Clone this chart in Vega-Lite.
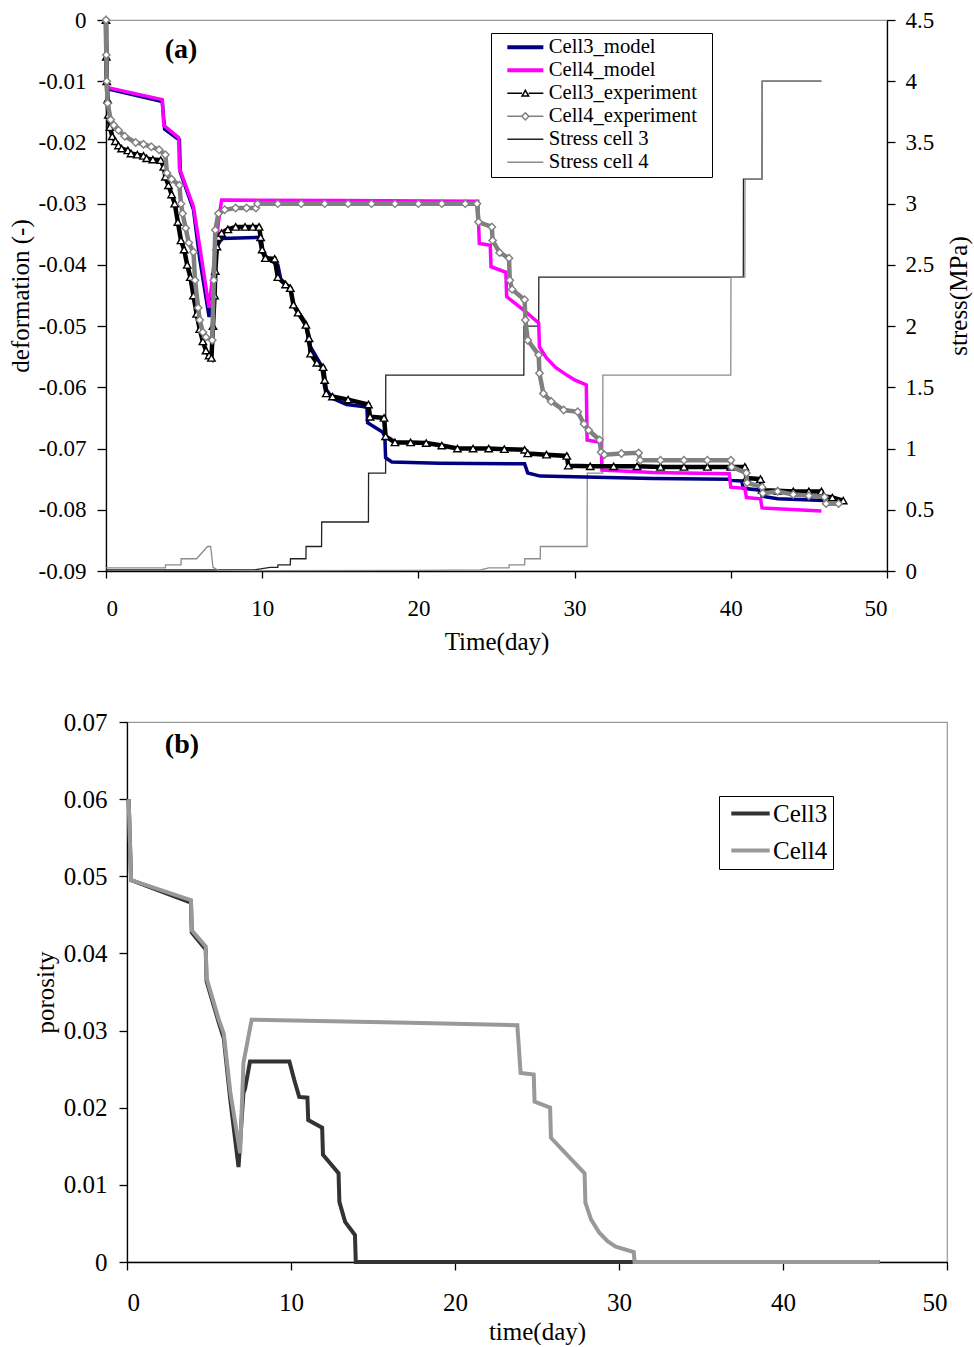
{
  "$schema": "https://vega.github.io/schema/vega-lite/v6.json",
  "background": "white",
  "padding": {"top": 8, "left": 7, "right": 0, "bottom": 0},
  "config": {
    "font": "Liberation Serif",
    "view": {"stroke": "#999999", "strokeWidth": 1.2},
    "axis": {"grid": false, "domainColor": "black", "tickColor": "black", "labelColor": "black", "titleColor": "black", "labelFont": "Liberation Serif", "titleFont": "Liberation Serif", "titleFontWeight": "normal", "domainWidth": 1.3, "tickWidth": 1.3}
  },
  "datasets": {
    "defo": [
      {"s":"Cell3_model","t":0,"v":0},{"s":"Cell3_model","t":0.05,"v":-0.0112},{"s":"Cell3_model","t":3.6,"v":-0.0133},{"s":"Cell3_model","t":3.75,"v":-0.0178},{"s":"Cell3_model","t":4.7,"v":-0.0196},{"s":"Cell3_model","t":4.75,"v":-0.0248},{"s":"Cell3_model","t":5.6,"v":-0.031},{"s":"Cell3_model","t":6.0,"v":-0.039},{"s":"Cell3_model","t":6.6,"v":-0.0485},{"s":"Cell3_model","t":6.9,"v":-0.042},{"s":"Cell3_model","t":7.1,"v":-0.037},{"s":"Cell3_model","t":7.4,"v":-0.0357},{"s":"Cell3_model","t":9.8,"v":-0.0355},{"s":"Cell3_model","t":10.0,"v":-0.038},{"s":"Cell3_model","t":10.5,"v":-0.0392},{"s":"Cell3_model","t":11.0,"v":-0.040},{"s":"Cell3_model","t":11.2,"v":-0.0425},{"s":"Cell3_model","t":11.8,"v":-0.0437},{"s":"Cell3_model","t":12.0,"v":-0.0465},{"s":"Cell3_model","t":12.8,"v":-0.0495},{"s":"Cell3_model","t":13.0,"v":-0.053},{"s":"Cell3_model","t":13.8,"v":-0.0565},{"s":"Cell3_model","t":14.0,"v":-0.060},{"s":"Cell3_model","t":14.5,"v":-0.0618},{"s":"Cell3_model","t":15.4,"v":-0.0628},{"s":"Cell3_model","t":16.7,"v":-0.0632},{"s":"Cell3_model","t":16.75,"v":-0.0658},{"s":"Cell3_model","t":17.7,"v":-0.0673},{"s":"Cell3_model","t":17.85,"v":-0.068},{"s":"Cell3_model","t":17.9,"v":-0.0715},{"s":"Cell3_model","t":18.3,"v":-0.0722},{"s":"Cell3_model","t":21.3,"v":-0.0724},{"s":"Cell3_model","t":26.8,"v":-0.0725},{"s":"Cell3_model","t":27.0,"v":-0.074},{"s":"Cell3_model","t":27.8,"v":-0.0745},{"s":"Cell3_model","t":35,"v":-0.0749},{"s":"Cell3_model","t":39.9,"v":-0.075},{"s":"Cell3_model","t":40.0,"v":-0.0752},{"s":"Cell3_model","t":40.7,"v":-0.0753},{"s":"Cell3_model","t":40.8,"v":-0.0765},{"s":"Cell3_model","t":41.9,"v":-0.0768},{"s":"Cell3_model","t":42.0,"v":-0.0778},{"s":"Cell3_model","t":43,"v":-0.0782},{"s":"Cell3_model","t":46.0,"v":-0.0785},
      {"s":"Cell4_model","t":0,"v":0},{"s":"Cell4_model","t":0.05,"v":-0.011},{"s":"Cell4_model","t":3.6,"v":-0.013},{"s":"Cell4_model","t":3.7,"v":-0.0172},{"s":"Cell4_model","t":4.65,"v":-0.0192},{"s":"Cell4_model","t":4.7,"v":-0.0242},{"s":"Cell4_model","t":5.6,"v":-0.0305},{"s":"Cell4_model","t":6.0,"v":-0.037},{"s":"Cell4_model","t":6.6,"v":-0.047},{"s":"Cell4_model","t":6.9,"v":-0.040},{"s":"Cell4_model","t":7.2,"v":-0.033},{"s":"Cell4_model","t":7.4,"v":-0.0294},{"s":"Cell4_model","t":15,"v":-0.0295},{"s":"Cell4_model","t":23.8,"v":-0.0296},{"s":"Cell4_model","t":23.9,"v":-0.0365},{"s":"Cell4_model","t":24.6,"v":-0.0368},{"s":"Cell4_model","t":24.65,"v":-0.0403},{"s":"Cell4_model","t":25.6,"v":-0.0412},{"s":"Cell4_model","t":25.65,"v":-0.0452},{"s":"Cell4_model","t":26.8,"v":-0.0475},{"s":"Cell4_model","t":27.7,"v":-0.0495},{"s":"Cell4_model","t":27.75,"v":-0.0534},{"s":"Cell4_model","t":28.2,"v":-0.0552},{"s":"Cell4_model","t":28.8,"v":-0.0568},{"s":"Cell4_model","t":29.5,"v":-0.058},{"s":"Cell4_model","t":30.0,"v":-0.0588},{"s":"Cell4_model","t":30.75,"v":-0.0596},{"s":"Cell4_model","t":30.8,"v":-0.0686},{"s":"Cell4_model","t":31.7,"v":-0.069},{"s":"Cell4_model","t":31.75,"v":-0.0735},{"s":"Cell4_model","t":35,"v":-0.0739},{"s":"Cell4_model","t":39.9,"v":-0.0741},{"s":"Cell4_model","t":40.0,"v":-0.0763},{"s":"Cell4_model","t":40.9,"v":-0.0765},{"s":"Cell4_model","t":41.0,"v":-0.078},{"s":"Cell4_model","t":41.9,"v":-0.0782},{"s":"Cell4_model","t":42.0,"v":-0.0797},{"s":"Cell4_model","t":45.8,"v":-0.0802},
      {"s":"Cell3_experiment","t":0,"v":0},{"s":"Cell3_experiment","t":0.02,"v":-0.006},{"s":"Cell3_experiment","t":0.05,"v":-0.010},{"s":"Cell3_experiment","t":0.1,"v":-0.013},{"s":"Cell3_experiment","t":0.15,"v":-0.0155},{"s":"Cell3_experiment","t":0.25,"v":-0.0175},{"s":"Cell3_experiment","t":0.4,"v":-0.019},{"s":"Cell3_experiment","t":0.6,"v":-0.0198},{"s":"Cell3_experiment","t":0.8,"v":-0.0205},{"s":"Cell3_experiment","t":1.0,"v":-0.021},{"s":"Cell3_experiment","t":1.4,"v":-0.0213},{"s":"Cell3_experiment","t":1.6,"v":-0.0218},{"s":"Cell3_experiment","t":2.0,"v":-0.022},{"s":"Cell3_experiment","t":2.4,"v":-0.0222},{"s":"Cell3_experiment","t":2.6,"v":-0.0226},{"s":"Cell3_experiment","t":3.0,"v":-0.0228},{"s":"Cell3_experiment","t":3.5,"v":-0.0229},{"s":"Cell3_experiment","t":3.7,"v":-0.024},{"s":"Cell3_experiment","t":3.8,"v":-0.0256},{"s":"Cell3_experiment","t":4.0,"v":-0.027},{"s":"Cell3_experiment","t":4.2,"v":-0.0285},{"s":"Cell3_experiment","t":4.4,"v":-0.030},{"s":"Cell3_experiment","t":4.6,"v":-0.033},{"s":"Cell3_experiment","t":4.8,"v":-0.036},{"s":"Cell3_experiment","t":5.0,"v":-0.0375},{"s":"Cell3_experiment","t":5.2,"v":-0.040},{"s":"Cell3_experiment","t":5.4,"v":-0.042},{"s":"Cell3_experiment","t":5.6,"v":-0.045},{"s":"Cell3_experiment","t":5.8,"v":-0.048},{"s":"Cell3_experiment","t":6.0,"v":-0.0505},{"s":"Cell3_experiment","t":6.2,"v":-0.0525},{"s":"Cell3_experiment","t":6.4,"v":-0.054},{"s":"Cell3_experiment","t":6.6,"v":-0.0548},{"s":"Cell3_experiment","t":6.75,"v":-0.0552},{"s":"Cell3_experiment","t":6.85,"v":-0.050},{"s":"Cell3_experiment","t":6.95,"v":-0.045},{"s":"Cell3_experiment","t":7.0,"v":-0.041},{"s":"Cell3_experiment","t":7.1,"v":-0.037},{"s":"Cell3_experiment","t":7.2,"v":-0.0355},{"s":"Cell3_experiment","t":7.4,"v":-0.0348},{"s":"Cell3_experiment","t":7.8,"v":-0.0342},{"s":"Cell3_experiment","t":8.3,"v":-0.0338},{"s":"Cell3_experiment","t":8.9,"v":-0.0338},{"s":"Cell3_experiment","t":9.4,"v":-0.0338},{"s":"Cell3_experiment","t":9.8,"v":-0.0338},{"s":"Cell3_experiment","t":9.9,"v":-0.0355},{"s":"Cell3_experiment","t":10.0,"v":-0.0375},{"s":"Cell3_experiment","t":10.2,"v":-0.0389},{"s":"Cell3_experiment","t":10.8,"v":-0.039},{"s":"Cell3_experiment","t":11.0,"v":-0.042},{"s":"Cell3_experiment","t":11.5,"v":-0.0432},{"s":"Cell3_experiment","t":11.8,"v":-0.0438},{"s":"Cell3_experiment","t":12.0,"v":-0.0465},{"s":"Cell3_experiment","t":12.3,"v":-0.0478},{"s":"Cell3_experiment","t":12.8,"v":-0.0498},{"s":"Cell3_experiment","t":13.0,"v":-0.052},{"s":"Cell3_experiment","t":13.1,"v":-0.0545},{"s":"Cell3_experiment","t":13.5,"v":-0.056},{"s":"Cell3_experiment","t":13.9,"v":-0.0567},{"s":"Cell3_experiment","t":14.0,"v":-0.0588},{"s":"Cell3_experiment","t":14.1,"v":-0.061},{"s":"Cell3_experiment","t":14.5,"v":-0.0615},{"s":"Cell3_experiment","t":15.5,"v":-0.062},{"s":"Cell3_experiment","t":16.8,"v":-0.0628},{"s":"Cell3_experiment","t":16.9,"v":-0.0648},{"s":"Cell3_experiment","t":17.8,"v":-0.065},{"s":"Cell3_experiment","t":17.9,"v":-0.068},{"s":"Cell3_experiment","t":18.5,"v":-0.069},{"s":"Cell3_experiment","t":19.5,"v":-0.069},{"s":"Cell3_experiment","t":20.5,"v":-0.0691},{"s":"Cell3_experiment","t":21.5,"v":-0.0695},{"s":"Cell3_experiment","t":22.5,"v":-0.070},{"s":"Cell3_experiment","t":23.5,"v":-0.070},{"s":"Cell3_experiment","t":24.5,"v":-0.070},{"s":"Cell3_experiment","t":25.5,"v":-0.0701},{"s":"Cell3_experiment","t":26.8,"v":-0.0702},{"s":"Cell3_experiment","t":27.0,"v":-0.0708},{"s":"Cell3_experiment","t":28.2,"v":-0.071},{"s":"Cell3_experiment","t":29.5,"v":-0.0712},{"s":"Cell3_experiment","t":29.6,"v":-0.0728},{"s":"Cell3_experiment","t":31,"v":-0.0729},{"s":"Cell3_experiment","t":32.5,"v":-0.0729},{"s":"Cell3_experiment","t":34,"v":-0.0729},{"s":"Cell3_experiment","t":35.5,"v":-0.073},{"s":"Cell3_experiment","t":37,"v":-0.073},{"s":"Cell3_experiment","t":38.5,"v":-0.073},{"s":"Cell3_experiment","t":40,"v":-0.073},{"s":"Cell3_experiment","t":40.9,"v":-0.073},{"s":"Cell3_experiment","t":41.0,"v":-0.0748},{"s":"Cell3_experiment","t":41.9,"v":-0.075},{"s":"Cell3_experiment","t":42.0,"v":-0.0768},{"s":"Cell3_experiment","t":43,"v":-0.0769},{"s":"Cell3_experiment","t":44,"v":-0.077},{"s":"Cell3_experiment","t":45,"v":-0.077},{"s":"Cell3_experiment","t":45.8,"v":-0.077},{"s":"Cell3_experiment","t":45.9,"v":-0.0778},{"s":"Cell3_experiment","t":46.5,"v":-0.078},{"s":"Cell3_experiment","t":47.2,"v":-0.0785},
      {"s":"Cell4_experiment","t":0,"v":0},{"s":"Cell4_experiment","t":0.02,"v":-0.0057},{"s":"Cell4_experiment","t":0.05,"v":-0.010},{"s":"Cell4_experiment","t":0.1,"v":-0.0136},{"s":"Cell4_experiment","t":0.3,"v":-0.0163},{"s":"Cell4_experiment","t":0.5,"v":-0.0172},{"s":"Cell4_experiment","t":0.8,"v":-0.018},{"s":"Cell4_experiment","t":1.2,"v":-0.019},{"s":"Cell4_experiment","t":1.9,"v":-0.020},{"s":"Cell4_experiment","t":2.4,"v":-0.0203},{"s":"Cell4_experiment","t":2.9,"v":-0.0207},{"s":"Cell4_experiment","t":3.4,"v":-0.0212},{"s":"Cell4_experiment","t":3.8,"v":-0.022},{"s":"Cell4_experiment","t":3.9,"v":-0.025},{"s":"Cell4_experiment","t":4.2,"v":-0.026},{"s":"Cell4_experiment","t":4.7,"v":-0.027},{"s":"Cell4_experiment","t":4.8,"v":-0.030},{"s":"Cell4_experiment","t":4.9,"v":-0.0316},{"s":"Cell4_experiment","t":5.1,"v":-0.034},{"s":"Cell4_experiment","t":5.3,"v":-0.0364},{"s":"Cell4_experiment","t":5.6,"v":-0.0379},{"s":"Cell4_experiment","t":5.7,"v":-0.0425},{"s":"Cell4_experiment","t":5.9,"v":-0.047},{"s":"Cell4_experiment","t":6.0,"v":-0.049},{"s":"Cell4_experiment","t":6.2,"v":-0.051},{"s":"Cell4_experiment","t":6.4,"v":-0.0518},{"s":"Cell4_experiment","t":6.8,"v":-0.0523},{"s":"Cell4_experiment","t":6.9,"v":-0.0425},{"s":"Cell4_experiment","t":7.0,"v":-0.0343},{"s":"Cell4_experiment","t":7.2,"v":-0.0316},{"s":"Cell4_experiment","t":7.6,"v":-0.031},{"s":"Cell4_experiment","t":8.3,"v":-0.0307},{"s":"Cell4_experiment","t":9.0,"v":-0.0307},{"s":"Cell4_experiment","t":9.6,"v":-0.0307},{"s":"Cell4_experiment","t":9.7,"v":-0.030},{"s":"Cell4_experiment","t":11,"v":-0.030},{"s":"Cell4_experiment","t":12.5,"v":-0.030},{"s":"Cell4_experiment","t":14,"v":-0.030},{"s":"Cell4_experiment","t":15.5,"v":-0.030},{"s":"Cell4_experiment","t":17,"v":-0.030},{"s":"Cell4_experiment","t":18.5,"v":-0.030},{"s":"Cell4_experiment","t":20,"v":-0.030},{"s":"Cell4_experiment","t":21.5,"v":-0.030},{"s":"Cell4_experiment","t":23,"v":-0.030},{"s":"Cell4_experiment","t":23.75,"v":-0.030},{"s":"Cell4_experiment","t":23.85,"v":-0.033},{"s":"Cell4_experiment","t":24.7,"v":-0.0338},{"s":"Cell4_experiment","t":24.75,"v":-0.036},{"s":"Cell4_experiment","t":25.2,"v":-0.038},{"s":"Cell4_experiment","t":25.8,"v":-0.0389},{"s":"Cell4_experiment","t":25.85,"v":-0.0425},{"s":"Cell4_experiment","t":26.0,"v":-0.044},{"s":"Cell4_experiment","t":26.8,"v":-0.0457},{"s":"Cell4_experiment","t":26.85,"v":-0.049},{"s":"Cell4_experiment","t":27.0,"v":-0.0523},{"s":"Cell4_experiment","t":27.7,"v":-0.0547},{"s":"Cell4_experiment","t":27.75,"v":-0.0577},{"s":"Cell4_experiment","t":28.0,"v":-0.061},{"s":"Cell4_experiment","t":28.5,"v":-0.0623},{"s":"Cell4_experiment","t":29.3,"v":-0.0637},{"s":"Cell4_experiment","t":30.2,"v":-0.064},{"s":"Cell4_experiment","t":30.6,"v":-0.066},{"s":"Cell4_experiment","t":30.9,"v":-0.067},{"s":"Cell4_experiment","t":31.6,"v":-0.0686},{"s":"Cell4_experiment","t":31.7,"v":-0.0706},{"s":"Cell4_experiment","t":31.9,"v":-0.071},{"s":"Cell4_experiment","t":33,"v":-0.0708},{"s":"Cell4_experiment","t":34.1,"v":-0.0707},{"s":"Cell4_experiment","t":34.2,"v":-0.0719},{"s":"Cell4_experiment","t":35.5,"v":-0.0719},{"s":"Cell4_experiment","t":37,"v":-0.0719},{"s":"Cell4_experiment","t":38.5,"v":-0.0719},{"s":"Cell4_experiment","t":40.0,"v":-0.0719},{"s":"Cell4_experiment","t":40.05,"v":-0.073},{"s":"Cell4_experiment","t":41.0,"v":-0.074},{"s":"Cell4_experiment","t":41.05,"v":-0.0756},{"s":"Cell4_experiment","t":42.0,"v":-0.0763},{"s":"Cell4_experiment","t":42.05,"v":-0.0773},{"s":"Cell4_experiment","t":43.0,"v":-0.077},{"s":"Cell4_experiment","t":44,"v":-0.0775},{"s":"Cell4_experiment","t":45,"v":-0.0777},{"s":"Cell4_experiment","t":46.0,"v":-0.0779},{"s":"Cell4_experiment","t":46.1,"v":-0.079},{"s":"Cell4_experiment","t":46.9,"v":-0.079}
    ],
    "stress": [
      {"s":"Stress cell 3","t":0,"v":0.01},{"s":"Stress cell 3","t":9.5,"v":0.01},{"s":"Stress cell 3","t":10.5,"v":0.03},{"s":"Stress cell 3","t":11.0,"v":0.03},{"s":"Stress cell 3","t":11.01,"v":0.05},{"s":"Stress cell 3","t":11.8,"v":0.05},{"s":"Stress cell 3","t":11.81,"v":0.1},{"s":"Stress cell 3","t":12.8,"v":0.1},{"s":"Stress cell 3","t":12.81,"v":0.2},{"s":"Stress cell 3","t":13.8,"v":0.2},{"s":"Stress cell 3","t":13.81,"v":0.4},{"s":"Stress cell 3","t":16.8,"v":0.4},{"s":"Stress cell 3","t":16.81,"v":0.8},{"s":"Stress cell 3","t":17.9,"v":0.8},{"s":"Stress cell 3","t":17.91,"v":1.6},{"s":"Stress cell 3","t":26.75,"v":1.6},{"s":"Stress cell 3","t":26.76,"v":2.0},{"s":"Stress cell 3","t":27.7,"v":2.0},{"s":"Stress cell 3","t":27.71,"v":2.4},{"s":"Stress cell 3","t":40.8,"v":2.4},{"s":"Stress cell 3","t":40.81,"v":3.2},{"s":"Stress cell 3","t":42.0,"v":3.2},{"s":"Stress cell 3","t":42.01,"v":4.0},{"s":"Stress cell 3","t":45.8,"v":4.0},
      {"s":"Stress cell 4","t":0,"v":0.025},{"s":"Stress cell 4","t":3.8,"v":0.025},{"s":"Stress cell 4","t":3.81,"v":0.05},{"s":"Stress cell 4","t":4.8,"v":0.05},{"s":"Stress cell 4","t":4.81,"v":0.1},{"s":"Stress cell 4","t":5.8,"v":0.1},{"s":"Stress cell 4","t":6.5,"v":0.2},{"s":"Stress cell 4","t":6.7,"v":0.2},{"s":"Stress cell 4","t":6.85,"v":0.03},{"s":"Stress cell 4","t":7.2,"v":0.005},{"s":"Stress cell 4","t":10,"v":0.003},{"s":"Stress cell 4","t":20,"v":0.005},{"s":"Stress cell 4","t":24.0,"v":0.01},{"s":"Stress cell 4","t":24.5,"v":0.025},{"s":"Stress cell 4","t":25.8,"v":0.025},{"s":"Stress cell 4","t":25.81,"v":0.05},{"s":"Stress cell 4","t":26.8,"v":0.05},{"s":"Stress cell 4","t":26.81,"v":0.1},{"s":"Stress cell 4","t":27.8,"v":0.1},{"s":"Stress cell 4","t":27.81,"v":0.2},{"s":"Stress cell 4","t":30.8,"v":0.2},{"s":"Stress cell 4","t":30.81,"v":0.8},{"s":"Stress cell 4","t":31.8,"v":0.8},{"s":"Stress cell 4","t":31.81,"v":1.6},{"s":"Stress cell 4","t":40.0,"v":1.6},{"s":"Stress cell 4","t":40.01,"v":2.4},{"s":"Stress cell 4","t":40.9,"v":2.4},{"s":"Stress cell 4","t":40.91,"v":3.2},{"s":"Stress cell 4","t":42.0,"v":3.2},{"s":"Stress cell 4","t":42.01,"v":4.0},{"s":"Stress cell 4","t":45.8,"v":4.0}
    ],
    "poro": [
      {"s":"Cell3","t":0.1,"v":0.06},{"s":"Cell3","t":0.25,"v":0.0495},{"s":"Cell3","t":3.9,"v":0.0466},{"s":"Cell3","t":3.95,"v":0.0427},{"s":"Cell3","t":4.8,"v":0.0405},{"s":"Cell3","t":4.85,"v":0.0364},{"s":"Cell3","t":5.6,"v":0.031},{"s":"Cell3","t":5.9,"v":0.029},{"s":"Cell3","t":6.3,"v":0.021},{"s":"Cell3","t":6.8,"v":0.0123},{"s":"Cell3","t":7.0,"v":0.0188},{"s":"Cell3","t":7.1,"v":0.0219},{"s":"Cell3","t":7.2,"v":0.0225},{"s":"Cell3","t":7.5,"v":0.026},{"s":"Cell3","t":9.9,"v":0.026},{"s":"Cell3","t":10.2,"v":0.0236},{"s":"Cell3","t":10.5,"v":0.0214},{"s":"Cell3","t":11.0,"v":0.0213},{"s":"Cell3","t":11.05,"v":0.0184},{"s":"Cell3","t":11.9,"v":0.0174},{"s":"Cell3","t":11.95,"v":0.0139},{"s":"Cell3","t":12.9,"v":0.0115},{"s":"Cell3","t":12.95,"v":0.0078},{"s":"Cell3","t":13.3,"v":0.0052},{"s":"Cell3","t":13.9,"v":0.0035},{"s":"Cell3","t":13.95,"v":0},{"s":"Cell3","t":45.9,"v":0},
      {"s":"Cell4","t":0.1,"v":0.06},{"s":"Cell4","t":0.25,"v":0.0495},{"s":"Cell4","t":3.9,"v":0.0469},{"s":"Cell4","t":3.95,"v":0.043},{"s":"Cell4","t":4.8,"v":0.0409},{"s":"Cell4","t":4.85,"v":0.0368},{"s":"Cell4","t":5.6,"v":0.0314},{"s":"Cell4","t":5.9,"v":0.0296},{"s":"Cell4","t":6.3,"v":0.022},{"s":"Cell4","t":6.9,"v":0.0141},{"s":"Cell4","t":7.1,"v":0.0258},{"s":"Cell4","t":7.6,"v":0.0314},{"s":"Cell4","t":17.2,"v":0.031},{"s":"Cell4","t":23.8,"v":0.0307},{"s":"Cell4","t":24.0,"v":0.0245},{"s":"Cell4","t":24.8,"v":0.0243},{"s":"Cell4","t":24.85,"v":0.0208},{"s":"Cell4","t":25.8,"v":0.020},{"s":"Cell4","t":25.85,"v":0.0161},{"s":"Cell4","t":27.9,"v":0.0115},{"s":"Cell4","t":27.95,"v":0.0077},{"s":"Cell4","t":28.3,"v":0.0055},{"s":"Cell4","t":28.8,"v":0.0038},{"s":"Cell4","t":29.3,"v":0.0027},{"s":"Cell4","t":29.8,"v":0.002},{"s":"Cell4","t":30.9,"v":0.0013},{"s":"Cell4","t":30.95,"v":0},{"s":"Cell4","t":45.9,"v":0}
    ]
  },
  "concat": [
    {
      "width": 781,
      "height": 551,
      "layer": [
        {
          "data": {"name": "stress"},
          "mark": {"type": "line", "strokeWidth": 1.3},
          "encoding": {
            "x": {"field": "t", "type": "quantitative", "scale": {"domain": [0, 50], "nice": false}, "axis": {"values": [0, 10, 20, 30, 40, 50], "title": "Time(day)", "labelFontSize": 23, "titleFontSize": 25, "tickSize": 7, "labelPadding": 19, "titlePadding": 9}},
            "y": {"field": "v", "type": "quantitative", "scale": {"domain": [0, 4.5], "nice": false}, "axis": {"orient": "right", "values": [0, 0.5, 1, 1.5, 2, 2.5, 3, 3.5, 4, 4.5], "labelExpr": "format(datum.value, '~g')", "title": "stress(MPa)", "titleAngle": -90, "titleBaseline": "top", "labelFontSize": 23, "titleFontSize": 25, "tickSize": 8, "labelPadding": 10, "titlePadding": 13}},
            "color": {"field": "s", "type": "nominal",
              "scale": {"domain": ["Cell3_model", "Cell4_model", "Cell3_experiment", "Cell4_experiment", "Stress cell 3", "Stress cell 4"], "range": ["#000080", "#ff00ff", "#000000", "#808080", "#222222", "#8c8c8c"]},
              "legend": {"title": null, "orient": "none", "legendX": 385, "legendY": 13, "labelFont": "Liberation Serif", "labelFontSize": 20.7, "labelColor": "black", "labelExpr": "datum.label + '\u00a0\u00a0\u200b'", "symbolSize": 144, "symbolOffset": 20, "labelOffset": 13, "rowPadding": 1, "padding": 4, "strokeColor": "black", "fillColor": "white", "labelLimit": 400,
                "encode": {"symbols": {"update": {
                  "shape": {"signal": "datum.value === 'Cell3_experiment' ? 'M-3,0H-0.55M-0.55,0.45L0,-0.5L0.55,0.45ZM0.55,0H3' : datum.value === 'Cell4_experiment' ? 'M-3,0H-0.6M-0.6,0L0,-0.6L0.6,0L0,0.6ZM0.6,0H3' : 'M-3,0H3'"},
                  "strokeWidth": {"signal": "(datum.value === 'Cell3_model' || datum.value === 'Cell4_model') ? 4 : 1.5"},
                  "fill": {"value": "white"},
                  "opacity": {"value": 1}
                }}}
              }
            }
          }
        },
        {
          "encoding": {
            "x": {"field": "t", "type": "quantitative", "scale": {"domain": [0, 50], "nice": false}, "axis": {"values": [0, 10, 20, 30, 40, 50], "title": "Time(day)", "labelFontSize": 23, "titleFontSize": 25, "tickSize": 7, "labelPadding": 19, "titlePadding": 9}},
            "y": {"field": "v", "type": "quantitative", "scale": {"domain": [-0.09, 0], "nice": false}, "axis": {"orient": "left", "values": [0, -0.01, -0.02, -0.03, -0.04, -0.05, -0.06, -0.07, -0.08, -0.09], "labelExpr": "datum.value == 0 ? '0' : '-' + format(-datum.value, '.2f')", "title": "deformation (-)", "labelFontSize": 23, "titleFontSize": 25, "tickSize": 9, "labelPadding": 11, "titlePadding": 5}}
          },
          "layer": [
            {
              "data": {"name": "defo"},
              "transform": [{"filter": "datum.s === 'Cell3_model'"}],
              "mark": {"type": "line", "strokeWidth": 3.5},
              "encoding": {"color": {"field": "s", "type": "nominal", "scale": {"domain": ["Cell3_model", "Cell4_model", "Cell3_experiment", "Cell4_experiment", "Stress cell 3", "Stress cell 4"], "range": ["#000080", "#ff00ff", "#000000", "#808080", "#222222", "#8c8c8c"]}}}
            },
            {
              "data": {"name": "defo"},
              "transform": [{"filter": "datum.s === 'Cell4_model'"}],
              "mark": {"type": "line", "strokeWidth": 3.5},
              "encoding": {"color": {"field": "s", "type": "nominal", "scale": {"domain": ["Cell3_model", "Cell4_model", "Cell3_experiment", "Cell4_experiment", "Stress cell 3", "Stress cell 4"], "range": ["#000080", "#ff00ff", "#000000", "#808080", "#222222", "#8c8c8c"]}}}
            },
            {
              "data": {"name": "defo"},
              "transform": [{"filter": "datum.s === 'Cell3_experiment'"}],
              "mark": {"type": "line", "strokeWidth": 4.5},
              "encoding": {"color": {"field": "s", "type": "nominal", "scale": {"domain": ["Cell3_model", "Cell4_model", "Cell3_experiment", "Cell4_experiment", "Stress cell 3", "Stress cell 4"], "range": ["#000080", "#ff00ff", "#000000", "#808080", "#222222", "#8c8c8c"]}}}
            },
            {
              "data": {"name": "defo"},
              "transform": [{"filter": "datum.s === 'Cell3_experiment'"}],
              "mark": {"type": "point", "shape": "triangle-up", "filled": true, "fill": "white", "stroke": "black", "strokeWidth": 1.4, "size": 55, "opacity": 1}
            },
            {
              "data": {"name": "defo"},
              "transform": [{"filter": "datum.s === 'Cell4_experiment'"}],
              "mark": {"type": "line", "strokeWidth": 4.5},
              "encoding": {"color": {"field": "s", "type": "nominal", "scale": {"domain": ["Cell3_model", "Cell4_model", "Cell3_experiment", "Cell4_experiment", "Stress cell 3", "Stress cell 4"], "range": ["#000080", "#ff00ff", "#000000", "#808080", "#222222", "#8c8c8c"]}}}
            },
            {
              "data": {"name": "defo"},
              "transform": [{"filter": "datum.s === 'Cell4_experiment'"}],
              "mark": {"type": "point", "shape": "diamond", "filled": true, "fill": "white", "stroke": "#808080", "strokeWidth": 1.4, "size": 55, "opacity": 1}
            },
            {
              "data": {"values": [{"t": 4.8, "v": -0.0049, "lab": "(a)"}]},
              "mark": {"type": "text", "font": "Liberation Serif", "fontSize": 28, "fontWeight": "bold", "color": "black"},
              "encoding": {"text": {"field": "lab"}}
            }
          ]
        }
      ],
      "resolve": {"scale": {"y": "independent"}}
    },
    {
      "hconcat": [
        {
          "width": 1,
          "height": 1,
          "data": {"values": [{"a": 1}]},
          "mark": {"type": "point", "opacity": 0},
          "view": {"stroke": null}
        },
        {
          "width": 820,
          "height": 540,
          "data": {"name": "poro"},
          "encoding": {
            "x": {"field": "t", "type": "quantitative", "scale": {"domain": [0, 50], "nice": false}, "axis": {"values": [0, 10, 20, 30, 40, 50], "title": "time(day)", "labelFontSize": 25, "titleFontSize": 25, "tickSize": 8, "labelPadding": 20, "titlePadding": 4}},
            "y": {"field": "v", "type": "quantitative", "scale": {"domain": [0, 0.07], "nice": false}, "axis": {"values": [0, 0.01, 0.02, 0.03, 0.04, 0.05, 0.06, 0.07], "labelExpr": "datum.value == 0 ? '0' : format(datum.value, '.2f')", "title": "porosity", "labelFontSize": 25, "titleFontSize": 25, "tickSize": 8, "labelPadding": 12, "titlePadding": 5}}
          },
          "layer": [
            {
              "transform": [{"filter": "datum.s === 'Cell3'"}],
              "mark": {"type": "line", "strokeWidth": 4},
              "encoding": {"color": {"field": "s", "type": "nominal", "scale": {"domain": ["Cell3", "Cell4"], "range": ["#333333", "#999999"]},
                "legend": {"title": null, "orient": "none", "legendX": 613, "legendY": 74, "labelFont": "Liberation Serif", "labelFontSize": 25, "labelColor": "black", "symbolSize": 144, "symbolOffset": 14, "labelOffset": 10, "rowPadding": 11, "padding": 5, "strokeColor": "black", "fillColor": "white",
                  "encode": {"symbols": {"update": {"shape": {"value": "M-3.2,0H3.2"}, "strokeWidth": {"value": 4}, "opacity": {"value": 1}}}}}}}
            },
            {
              "transform": [{"filter": "datum.s === 'Cell4'"}],
              "mark": {"type": "line", "strokeWidth": 4},
              "encoding": {"color": {"field": "s", "type": "nominal", "scale": {"domain": ["Cell3", "Cell4"], "range": ["#333333", "#999999"]},
                "legend": {"title": null, "orient": "none", "legendX": 613, "legendY": 74, "labelFont": "Liberation Serif", "labelFontSize": 25, "labelColor": "black", "symbolSize": 144, "symbolOffset": 14, "labelOffset": 10, "rowPadding": 11, "padding": 5, "strokeColor": "black", "fillColor": "white",
                  "encode": {"symbols": {"update": {"shape": {"value": "M-3.2,0H3.2"}, "strokeWidth": {"value": 4}, "opacity": {"value": 1}}}}}}}
            },
            {
              "data": {"values": [{"t": 3.35, "v": 0.067, "lab": "(b)"}]},
              "mark": {"type": "text", "font": "Liberation Serif", "fontSize": 28, "fontWeight": "bold", "color": "black"},
              "encoding": {"text": {"field": "lab"}}
            }
          ]
        }
      ],
      "spacing": 20,
      "bounds": "flush"
    }
  ],
  "columns": 1,
  "resolve": {"scale": {"color": "independent"}, "legend": {"color": "independent"}},
  "spacing": 54,
  "align": "none"
}
